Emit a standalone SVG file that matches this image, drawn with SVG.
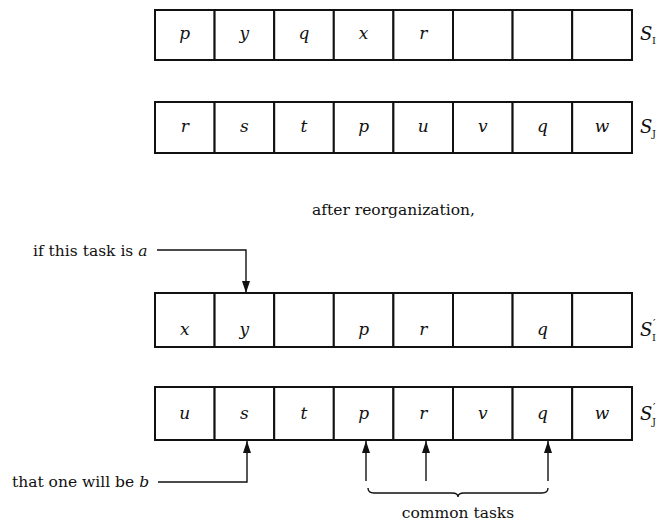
<svg xmlns="http://www.w3.org/2000/svg" width="668" height="522" viewBox="0 0 668 522">
<defs>
<style>
.cell{fill:#fff;stroke:#111;stroke-width:2}
.v{font-family:"DejaVu Serif","Liberation Serif",serif;font-style:italic;font-size:17px;fill:#111;text-anchor:middle}
.lbl{font-family:"DejaVu Serif","Liberation Serif",serif;font-size:15.5px;fill:#111}
.it{font-style:italic}
.s{font-family:"DejaVu Serif","Liberation Serif",serif;font-style:italic;font-size:18px;fill:#111}
.sub{font-family:"DejaVu Serif","Liberation Serif",serif;font-size:10px;fill:#111}
.pr{font-family:"DejaVu Serif","Liberation Serif",serif;font-size:11px;fill:#111}
.ln{fill:none;stroke:#111;stroke-width:1.4}
</style>
<marker id="ah" viewBox="0 0 12 8" refX="12" refY="4" markerWidth="12" markerHeight="8" markerUnits="userSpaceOnUse" orient="auto">
<path d="M0,0 L12,4 L0,8 Z" fill="#111"/>
</marker>
</defs>
<rect width="668" height="522" fill="#fff"/>

<g id="row-SI">
<g id="SI-1"><rect class="cell" x="155" y="10" width="59.6" height="50"/><text class="v" x="184.8" y="39">p</text></g>
<g id="SI-2"><rect class="cell" x="214.6" y="10" width="59.6" height="50"/><text class="v" x="244.4" y="39">y</text></g>
<g id="SI-3"><rect class="cell" x="274.2" y="10" width="59.6" height="50"/><text class="v" x="304" y="39">q</text></g>
<g id="SI-4"><rect class="cell" x="333.8" y="10" width="59.6" height="50"/><text class="v" x="363.6" y="39">x</text></g>
<g id="SI-5"><rect class="cell" x="393.4" y="10" width="59.6" height="50"/><text class="v" x="423.2" y="39">r</text></g>
<g id="SI-6"><rect class="cell" x="453" y="10" width="59.6" height="50"/></g>
<g id="SI-7"><rect class="cell" x="512.6" y="10" width="59.6" height="50"/></g>
<g id="SI-8"><rect class="cell" x="572.2" y="10" width="59.8" height="50"/></g>
<text class="s" x="640" y="40">S</text><text class="sub" x="652" y="44">I</text>
</g>

<g id="row-SJ">
<g id="SJ-1"><rect class="cell" x="155" y="102" width="59.6" height="51"/><text class="v" x="184.8" y="132">r</text></g>
<g id="SJ-2"><rect class="cell" x="214.6" y="102" width="59.6" height="51"/><text class="v" x="244.4" y="132">s</text></g>
<g id="SJ-3"><rect class="cell" x="274.2" y="102" width="59.6" height="51"/><text class="v" x="304" y="132">t</text></g>
<g id="SJ-4"><rect class="cell" x="333.8" y="102" width="59.6" height="51"/><text class="v" x="363.6" y="132">p</text></g>
<g id="SJ-5"><rect class="cell" x="393.4" y="102" width="59.6" height="51"/><text class="v" x="423.2" y="132">u</text></g>
<g id="SJ-6"><rect class="cell" x="453" y="102" width="59.6" height="51"/><text class="v" x="482.8" y="132">v</text></g>
<g id="SJ-7"><rect class="cell" x="512.6" y="102" width="59.6" height="51"/><text class="v" x="542.4" y="132">q</text></g>
<g id="SJ-8"><rect class="cell" x="572.2" y="102" width="59.8" height="51"/><text class="v" x="602" y="132">w</text></g>
<text class="s" x="640" y="133">S</text><text class="sub" x="652" y="137">J</text>
</g>

<text id="after" class="lbl" x="312" y="215">after reorganization,</text>

<g id="row-SI2">
<g id="SI2-1"><rect class="cell" x="155" y="293" width="59.6" height="54"/><text class="v" x="184.8" y="335">x</text></g>
<g id="SI2-2"><rect class="cell" x="214.6" y="293" width="59.6" height="54"/><text class="v" x="244.4" y="335">y</text></g>
<g id="SI2-3"><rect class="cell" x="274.2" y="293" width="59.6" height="54"/></g>
<g id="SI2-4"><rect class="cell" x="333.8" y="293" width="59.6" height="54"/><text class="v" x="363.6" y="335">p</text></g>
<g id="SI2-5"><rect class="cell" x="393.4" y="293" width="59.6" height="54"/><text class="v" x="423.2" y="335">r</text></g>
<g id="SI2-6"><rect class="cell" x="453" y="293" width="59.6" height="54"/></g>
<g id="SI2-7"><rect class="cell" x="512.6" y="293" width="59.6" height="54"/><text class="v" x="542.4" y="335">q</text></g>
<g id="SI2-8"><rect class="cell" x="572.2" y="293" width="59.8" height="54"/></g>
<text class="s" x="640" y="336">S</text><text class="sub" x="652" y="341">I</text><text class="pr" x="653" y="327">′</text>
</g>

<g id="row-SJ2">
<g id="SJ2-1"><rect class="cell" x="155" y="387" width="59.6" height="53"/><text class="v" x="184.8" y="419">u</text></g>
<g id="SJ2-2"><rect class="cell" x="214.6" y="387" width="59.6" height="53"/><text class="v" x="244.4" y="419">s</text></g>
<g id="SJ2-3"><rect class="cell" x="274.2" y="387" width="59.6" height="53"/><text class="v" x="304" y="419">t</text></g>
<g id="SJ2-4"><rect class="cell" x="333.8" y="387" width="59.6" height="53"/><text class="v" x="363.6" y="419">p</text></g>
<g id="SJ2-5"><rect class="cell" x="393.4" y="387" width="59.6" height="53"/><text class="v" x="423.2" y="419">r</text></g>
<g id="SJ2-6"><rect class="cell" x="453" y="387" width="59.6" height="53"/><text class="v" x="482.8" y="419">v</text></g>
<g id="SJ2-7"><rect class="cell" x="512.6" y="387" width="59.6" height="53"/><text class="v" x="542.4" y="419">q</text></g>
<g id="SJ2-8"><rect class="cell" x="572.2" y="387" width="59.8" height="53"/><text class="v" x="602" y="419">w</text></g>
<text class="s" x="640" y="420">S</text><text class="sub" x="652" y="425">J</text><text class="pr" x="653" y="411">′</text>
</g>

<g id="label-a"><text class="lbl" x="33" y="256">if this task is <tspan class="it">a</tspan></text></g>
<g id="label-b"><text class="lbl" x="12" y="487">that one will be <tspan class="it">b</tspan></text></g>
<g id="label-common"><text class="lbl" x="458" y="518" text-anchor="middle">common tasks</text></g>

<g id="connectors">
<path class="ln" d="M157,250 H246 V293" marker-end="url(#ah)"/>
<path class="ln" d="M158,482 H247 V441" marker-end="url(#ah)"/>
<path class="ln" d="M366,481 V441" marker-end="url(#ah)"/>
<path class="ln" d="M426,481 V441" marker-end="url(#ah)"/>
<path class="ln" d="M548,481 V441" marker-end="url(#ah)"/>
<path class="ln" d="M368,488 Q368,493 374,493 H452 Q458,493 458,497 Q458,493 464,493 H542 Q548,493 548,488"/>
</g>
</svg>
